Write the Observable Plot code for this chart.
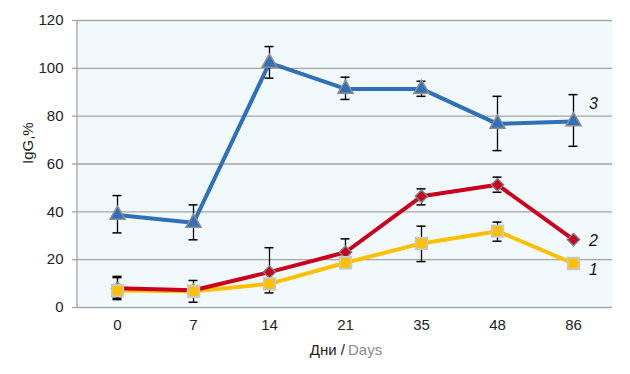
<!DOCTYPE html>
<html><head><meta charset="utf-8">
<script src="https://cdn.jsdelivr.net/npm/d3@7"></script>
<script src="https://cdn.jsdelivr.net/npm/@observablehq/plot@0.6"></script>
<style>
body{margin:0;background:#fff;}
svg{font-family:"Liberation Sans",Arial,sans-serif;}
</style>
</head><body>
<div id="chart"></div>
<script>
const days = ["0","7","14","21","35","48","86"];
const yTicks = [0,20,40,60,80,100,120];
const seriesNames = ["1","2","3"];
// series 1 (yellow)
const s1 = [7.1, 6.8, 9.9, 18.7, 26.8, 31.9, 18.4];
const s1Lo = [3.3, 2.2, null, null, 19.2, 27.7, null];
const s1Hi = [13.0, 11.3, null, null, 34.0, 35.7, null];
// series 2 (red)
const s2 = [8.0, 7.2, 14.8, 23.1, 46.5, 51.3, 28.4];
const s2Lo = [3.9, null, 6.1, 17.5, 42.9, 48.2, null];
const s2Hi = [12.5, null, 25.0, 28.7, 49.6, 54.5, null];
// series 3 (blue)
const s3 = [38.7, 35.4, 102.3, 91.4, 91.4, 76.8, 77.8];
const s3Lo = [31.2, 28.3, 95.9, 87.0, 88.3, 65.6, 67.4];
const s3Hi = [46.8, 42.9, 109.1, 96.3, 94.6, 88.3, 89.0];

const colors = {"1":"#ffc000","2":"#c8001e","3":"#2f70b8"};
const build = (name, v, lo, hi) => days.map((d,i)=>({series:name, day:d, v:v[i], lo:lo[i], hi:hi[i]}));
const d1 = build("1", s1, s1Lo, s1Hi);
const d2 = build("2", s2, s2Lo, s2Hi);
const d3s = build("3", s3, s3Lo, s3Hi);
const all = [...d1, ...d2, ...d3s];
const errs = all.filter(d => d.lo != null);
const last = [d1[6], d2[6], d3s[6]];

const font = "Liberation Sans, Arial, sans-serif";
const capW = 4.5;

const chart = Plot.plot({
  width: 630, height: 374,
  marginLeft: 77, marginRight: 18, marginTop: 20, marginBottom: 67,
  style: {fontFamily: font, fontSize: "14px", color: "#222", background: "#fff", overflow: "visible"},
  x: {type: "point", domain: days, padding: 0.5, axis: null},
  y: {domain: [0, 120], axis: null},
  marks: [
    Plot.frame({fill: "#f2f9fc", stroke: null}),
    Plot.ruleY(yTicks, {stroke: "#a5a5a5", strokeWidth: 1.3}),
    Plot.axisY({ticks: yTicks, tickSize: 5, tickPadding: 9, stroke: "#a5a5a5", strokeWidth: 1.3, fontSize: 15, fill: "#222", label: null}),
    Plot.axisX({tickSize: 0, tickPadding: 12, fontSize: 15, fill: "#222", label: null}),
    Plot.text(["IgG,%"], {frameAnchor: "left", dx: -49, rotate: -90, fontSize: 15, fill: "#222"}),
    Plot.text(["Дни /"], {frameAnchor: "bottom", dy: 47, dx: 0, textAnchor: "end", fontSize: 15, fill: "#222"}),
    Plot.text(["Days"], {frameAnchor: "bottom", dy: 47, dx: 3, textAnchor: "start", fontSize: 15, fill: "#8a8a8a"}),
    Plot.line(all, {x: "day", y: "v", z: "series", stroke: d => colors[d.series], strokeWidth: 4}),
    Plot.ruleX(errs, {x: "day", y1: "lo", y2: "hi", stroke: "#000", strokeWidth: 1.3}),
    Plot.ruleY(errs, {x1: "day", x2: "day", y: "lo", insetLeft: -capW, insetRight: -capW, stroke: "#000", strokeWidth: 1.5}),
    Plot.ruleY(errs, {x1: "day", x2: "day", y: "hi", insetLeft: -capW, insetRight: -capW, stroke: "#000", strokeWidth: 1.5}),
    Plot.dot(d3s, {x: "day", y: "v", symbol: "triangle", r: 5.6, fill: colors["3"], stroke: "#8c8c8c", strokeWidth: 1.5}),
    Plot.dot(d2, {x: "day", y: "v", symbol: "diamond2", r: 5.5, fill: colors["2"], stroke: "#7f7f7f", strokeWidth: 1.5}),
    Plot.dot(d1, {x: "day", y: "v", symbol: "square", r: 6.5, fill: colors["1"], stroke: "#c8c8c8", strokeWidth: 1.8}),
    Plot.text([last[0]], {x: "day", y: "v", text: "series", dx: 20, dy: 6, fontStyle: "italic", fontSize: 16, fill: "#111"}),
    Plot.text([last[1]], {x: "day", y: "v", text: "series", dx: 20, dy: 1, fontStyle: "italic", fontSize: 16, fill: "#111"}),
    Plot.text([last[2]], {x: "day", y: "v", text: "series", dx: 20, dy: -18, fontStyle: "italic", fontSize: 16, fill: "#111"})
  ]
});
// left axis line
const svg = d3.select(chart);
svg.append("line").attr("x1", 77).attr("x2", 77).attr("y1", 20).attr("y2", 307)
  .attr("stroke", "#a5a5a5").attr("stroke-width", 1.3);
document.getElementById("chart").appendChild(chart);
</script>
</body></html>
